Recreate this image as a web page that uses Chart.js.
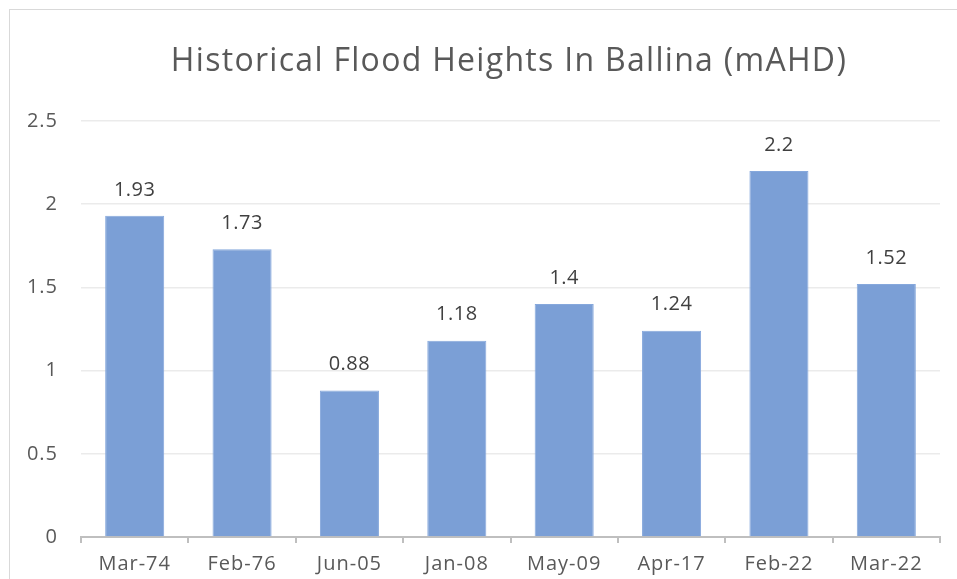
<!DOCTYPE html>
<html>
<head>
<meta charset="utf-8">
<script src="https://cdn.jsdelivr.net/npm/chart.js@4.4.1/dist/chart.umd.min.js"></script>
<style>
  html, body { margin: 0; padding: 0; background: #fff; overflow: hidden; }
  #frame { position: absolute; left: 9px; top: 9px; width: 980px; height: 600px; border: 1px solid #d9d9d9; }
  #wrap { position: absolute; left: 0; top: 0; width: 957px; height: 579px; }
</style>
</head>
<body>
<div id="frame"></div>
<div id="wrap"><canvas id="myChart" width="957" height="579"></canvas></div>
<script>
const floodLabels = ['Mar-74', 'Feb-76', 'Jun-05', 'Jan-08', 'May-09', 'Apr-17', 'Feb-22', 'Mar-22'];
const floodHeights = [1.93, 1.73, 0.88, 1.18, 1.4, 1.24, 2.2, 1.52];
const yTicks = [0, 0.5, 1, 1.5, 2, 2.5];
const chartTitle = 'Historical Flood Heights In Ballina (mAHD)';

const FONT = "'Open Sans', 'Liberation Sans', sans-serif";

// a bit of tracking on every text, like the original
const spacing = {
  id: 'spacing',
  beforeUpdate(chart) { chart.ctx.letterSpacing = '1px'; },
  beforeDraw(chart) { chart.ctx.letterSpacing = '1px'; }
};

// title drawn by hand so it can have its own spacing
const bigTitle = {
  id: 'bigTitle',
  afterDraw(chart) {
    const ctx = chart.ctx;
    ctx.save();
    ctx.letterSpacing = '1.3px';
    ctx.font = '32px ' + FONT;
    ctx.fillStyle = '#595959';
    ctx.textAlign = 'center';
    ctx.textBaseline = 'middle';
    ctx.fillText(chartTitle, 509, 62);
    ctx.restore();
  }
};

// value labels above each bar
const barValues = {
  id: 'barValues',
  afterDatasetsDraw(chart) {
    const ctx = chart.ctx;
    const meta = chart.getDatasetMeta(0);
    ctx.save();
    ctx.letterSpacing = '0.5px';
    ctx.font = '20px ' + FONT;
    ctx.fillStyle = '#404040';
    ctx.textAlign = 'center';
    ctx.textBaseline = 'middle';
    meta.data.forEach((bar, i) => {
      ctx.fillText(String(floodHeights[i]), bar.x, bar.y - 26);
    });
    ctx.restore();
  }
};

new Chart(document.getElementById('myChart'), {
  type: 'bar',
  data: {
    labels: floodLabels,
    datasets: [{
      data: floodHeights,
      backgroundColor: '#7b9fd6',
      borderColor: '#86a8dc',
      borderWidth: 1,
      barPercentage: 0.55,
      categoryPercentage: 1
    }]
  },
  options: {
    responsive: false,
    animation: false,
    layout: { padding: { left: 0, right: 17, top: 121, bottom: 0 } },
    plugins: {
      legend: { display: false },
      tooltip: { enabled: false },
      title: { display: false }
    },
    scales: {
      y: {
        min: 0,
        max: 2.5,
        afterBuildTicks(scale) { scale.ticks = yTicks.map(v => ({ value: v })); },
        afterFit(scale) { scale.width = 81; },
        border: { display: false },
        grid: { color: '#ebebeb', lineWidth: 1.5, drawTicks: false },
        ticks: {
          color: '#595959',
          padding: 23,
          font: { family: FONT, size: 20 },
          callback: v => String(v)
        }
      },
      x: {
        afterFit(scale) { scale.height = 42; },
        border: { display: true, color: '#bfbfbf', width: 2 },
        grid: { offset: true, drawOnChartArea: false, drawTicks: true, tickLength: 6, color: '#bfbfbf', lineWidth: 2 },
        ticks: { color: '#595959', padding: 9, maxRotation: 0, font: { family: FONT, size: 20 } }
      }
    }
  },
  plugins: [spacing, bigTitle, barValues]
});
</script>
</body>
</html>
